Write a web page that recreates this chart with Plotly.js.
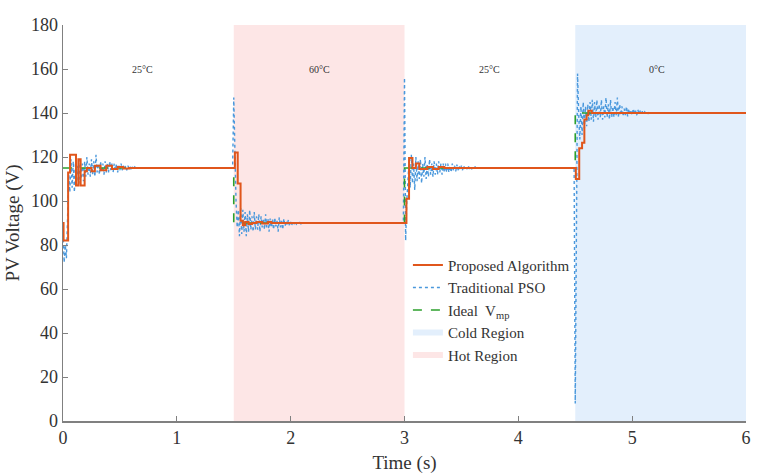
<!DOCTYPE html>
<html>
<head>
<meta charset="utf-8">
<script src="https://cdn.plot.ly/plotly-3.0.1.min.js"></script>
<style>html,body{margin:0;padding:0;background:#fff;}#chart{width:766px;height:476px;}</style>
</head>
<body>
<div id="chart"></div>
<script>
// ---------- data ----------
const xTicks = [0, 1, 2, 3, 4, 5, 6];
const yTicks = [0, 20, 40, 60, 80, 100, 120, 140, 160, 180];

// temperature regions
const hotRegionX = [1.5, 3.0];
const coldRegionX = [4.5, 6.0];
const regionY = [0, 180];

// temperature labels
const tempLabels = ["25°C", "60°C", "25°C", "0°C"];
const tempLabelX = [0.70, 2.25, 3.75, 5.22];
const tempLabelY = 160;

// Ideal Vmp
const idealT = [0, 1.5, 1.5, 3.0, 3.0, 4.5, 4.5, 6.0];
const idealV = [115, 115, 90, 90, 115, 115, 140, 140];

// Proposed algorithm (step-like)
const propT = [0, 0.005, 0.045, 0.062, 0.114, 0.135, 0.155, 0.19, 0.21, 0.25, 0.28, 0.33, 0.38, 0.43, 0.48, 0.53, 0.58,
  1.51, 1.535, 1.56, 1.58, 1.60, 1.63, 1.66, 1.70, 1.75, 1.80, 1.83,
  3.017, 3.04, 3.07, 3.10, 3.13, 3.20, 3.25, 3.30, 3.35,
  4.505, 4.535, 4.56, 4.58, 4.60, 4.615, 4.645, 6.0];
const propV = [90, 82, 113, 121, 107, 119, 107, 113.5, 115, 113.5, 116, 114, 116, 114.5, 115.5, 114.8, 115,
  122, 108, 91, 89, 90.5, 89.5, 90, 90.5, 89.8, 90.4, 90,
  101, 119.5, 115, 117, 114.5, 115.5, 114.5, 115.5, 115,
  110, 124, 126.5, 137, 139, 141, 140, 140];

// Traditional PSO: sampled every 0.01 s during transients
const psoDt = 0.01;
const pso1Start = 0.0;
const pso1 = [88, 72, 80, 74, 92, 112, 104, 119, 106, 118, 104, 117, 107, 116, 108, 119, 110, 117, 109, 118,
  111, 120, 112, 117, 111, 119, 112, 118, 111, 121, 113, 117, 112, 118, 113, 117, 112, 118, 113, 117,
  113, 118, 114, 117, 113, 117, 114, 117, 113, 116, 114, 117, 114, 116, 114, 116, 114, 116, 115, 116,
  114, 115.5, 114.5, 115.5, 115, 115];
const pso2Start = 1.49;
const pso2 = [115, 147, 120, 100, 88, 96, 84, 97, 85, 96, 86, 95, 84, 94, 86, 96, 87, 93, 86, 95,
  87, 93, 87, 94, 86, 93, 88, 92, 87, 94, 88, 92, 86, 92, 88, 91.5, 87, 92.5, 88.5, 91,
  86, 92.6, 88, 91, 87, 92, 88.5, 91, 89, 91.5, 88.5, 90.5, 89, 91, 89.5, 90.5, 89.5, 90.3, 89.8, 90.2,
  89.6, 90.4, 90];
const pso3Start = 2.99;
const pso3 = [90, 156, 82, 100, 110, 118, 106, 121, 108, 117, 105, 120, 109, 118, 110, 119, 108, 117, 111, 120,
  110, 117, 111, 119, 112, 117, 111, 118, 112, 117, 112, 118, 113, 117, 112, 117, 113, 117, 113, 117,
  113, 116, 113, 117, 114, 116, 113.5, 116.5, 114, 116, 114, 116, 114, 116, 114.5, 115.5, 114.5, 116, 114.5, 115.5,
  114.5, 115.5, 115, 115.5, 115, 115];
const pso4Start = 4.49;
const pso4 = [115, 8, 80, 158, 140, 128, 143, 130, 145, 133, 143, 134, 144, 136, 145, 137, 146, 136, 145, 138,
  146, 137, 144, 138, 146, 137, 143, 138, 147, 138, 144, 137, 146, 138, 143, 138, 145, 139, 147, 138,
  144, 139, 143, 138.5, 142, 139, 143, 138.5, 142, 139, 141.5, 139, 142, 139.5, 141, 139, 141.5, 139.5, 141, 139.5,
  140.8, 139.6, 140.5, 139.7, 140.4, 139.8, 140.3, 140, 140];
const psoEndT = 6.0;
const psoEndV = 140;

// ---------- build ----------
function seg(start, vals) {
  return vals.map((v, i) => [start + i * psoDt, v]);
}
let psoPts = [].concat(seg(pso1Start, pso1), seg(pso2Start, pso2), seg(pso3Start, pso3), seg(pso4Start, pso4));
psoPts.push([psoEndT, psoEndV]);
const psoT = psoPts.map(p => p[0]);
const psoV = psoPts.map(p => p[1]);

const serif = "Liberation Serif, Times New Roman, serif";
const txt = "#333333";

const traces = [
  {
    x: [coldRegionX[0], coldRegionX[1], coldRegionX[1], coldRegionX[0], coldRegionX[0]],
    y: [regionY[0], regionY[0], regionY[1], regionY[1], regionY[0]],
    type: "scatter", mode: "none", fill: "toself", fillcolor: "#e3effc",
    name: "Cold Region", legendrank: 4, hoverinfo: "skip"
  },
  {
    x: [hotRegionX[0], hotRegionX[1], hotRegionX[1], hotRegionX[0], hotRegionX[0]],
    y: [regionY[0], regionY[0], regionY[1], regionY[1], regionY[0]],
    type: "scatter", mode: "none", fill: "toself", fillcolor: "#fde6e6",
    name: "Hot Region", legendrank: 5, hoverinfo: "skip"
  },
  {
    x: psoT, y: psoV, type: "scatter", mode: "lines",
    line: {color: "#4a98dc", width: 1.4, dash: "dot"},
    name: "Traditional PSO", legendrank: 2
  },
  {
    x: idealT, y: idealV, type: "scatter", mode: "lines",
    line: {color: "#2ca02c", width: 1.6, dash: "dash"},
    name: "Ideal  V<sub>mp</sub>", legendrank: 3
  },
  {
    x: propT, y: propV, type: "scatter", mode: "lines",
    line: {color: "#e0561c", width: 2, shape: "hv"},
    name: "Proposed Algorithm", legendrank: 1
  }
];

const annotations = tempLabels.map((t, i) => ({
  x: tempLabelX[i], y: tempLabelY, xref: "x", yref: "y", text: t, showarrow: false,
  font: {family: serif, size: 10, color: txt}
}));

const layout = {
  width: 766, height: 476,
  margin: {l: 63, r: 20, t: 25, b: 55},
  paper_bgcolor: "#ffffff", plot_bgcolor: "#ffffff",
  font: {family: serif, color: txt},
  showlegend: true,
  legend: {
    x: 0.505, y: 0.435, xanchor: "left", yanchor: "top",
    bgcolor: "rgba(255,255,255,0)", font: {family: serif, size: 15, color: txt},
    tracegroupgap: 0, itemwidth: 30
  },
  xaxis: {
    range: [0, 6], tickvals: xTicks, ticktext: xTicks.map(String),
    showgrid: false, zeroline: false, showline: true, linecolor: "#808080", linewidth: 1.5,
    ticks: "inside", ticklen: 5, tickcolor: "#808080", tickwidth: 1,
    tickfont: {family: serif, size: 18, color: txt},
    title: {text: "Time (s)", font: {family: serif, size: 19, color: txt}, standoff: 8}
  },
  yaxis: {
    range: [0, 180], tickvals: yTicks, ticktext: yTicks.map(String),
    showgrid: false, zeroline: false, showline: true, linecolor: "#808080", linewidth: 1.5,
    ticks: "inside", ticklen: 5, tickcolor: "#808080", tickwidth: 1,
    tickfont: {family: serif, size: 18, color: txt},
    title: {text: "PV Voltage (V)", font: {family: serif, size: 19, color: txt}, standoff: 6}
  },
  annotations: annotations
};

Plotly.newPlot("chart", traces, layout, {displayModeBar: false, staticPlot: true});
</script>
</body>
</html>
